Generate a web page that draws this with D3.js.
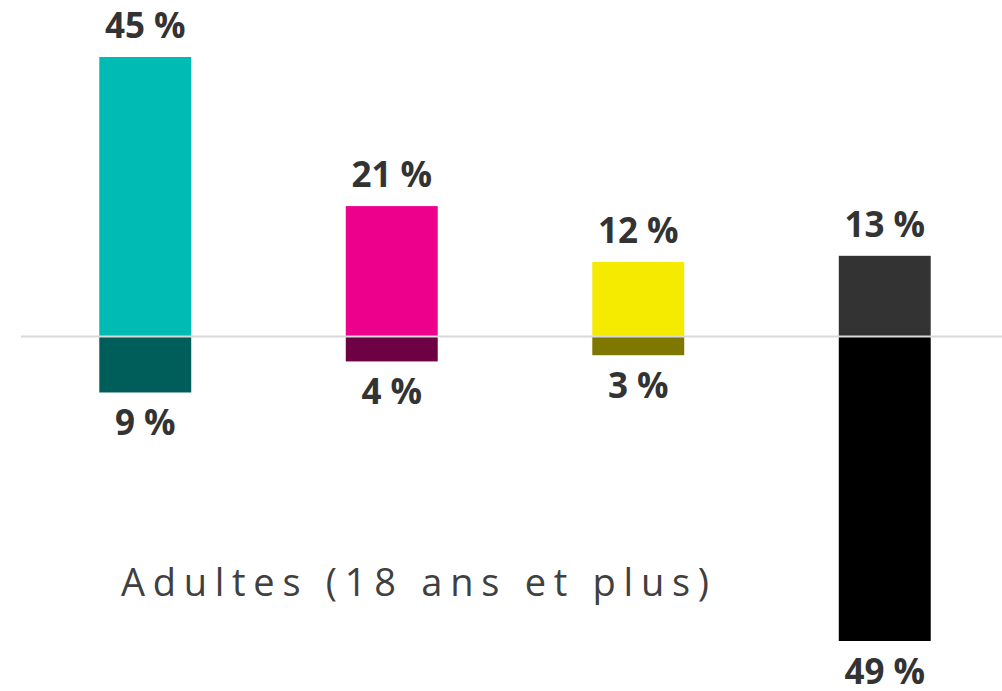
<!DOCTYPE html>
<html>
<head>
<meta charset="utf-8">
<script src="https://cdn.jsdelivr.net/npm/d3@7"></script>
<style>
    body { margin: 0; background: #fff; }
    svg { display: block; }
</style>
</head>
<body>
<div id="chart"></div>
<script>
// Data
var categories = ["A", "B", "C", "D"];
var positives = [45, 21, 12, 13];
var negatives = [9, 4, 3, 49];
var posColors = ["#00bbb4", "#ec008c", "#f5eb00", "#333333"];
var negColors = ["#005e5a", "#6e0044", "#7f7800", "#000000"];
var groupLabel = "Adultes (18 ans et plus)";

function init() {
    var w = 1002;
    var h = 691;

    var svg = d3.select("#chart")
        .append("svg")
        .attr("width", w)
        .attr("height", h);

    // x scale for the four columns
    var x = d3.scaleBand()
        .domain(categories)
        .range([22, 1008])
        .paddingInner(0.627)
        .paddingOuter(0.3135);

    // y scale, positives up, negatives down
    var y = d3.scaleLinear()
        .domain([-49, 45])
        .range([641, 57]);

    var rows = categories.map(function (c, i) {
        return { cat: c, pos: positives[i], neg: negatives[i], pc: posColors[i], nc: negColors[i] };
    });

    // Positive bars
    svg.selectAll("rect.pos")
        .data(rows)
        .enter()
        .append("rect")
        .attr("class", "pos")
        .attr("x", d => x(d.cat))
        .attr("width", x.bandwidth())
        .attr("y", d => y(d.pos))
        .attr("height", d => y(0) - y(d.pos))
        .style("fill", d => d.pc);

    // Negative bars
    svg.selectAll("rect.neg")
        .data(rows)
        .enter()
        .append("rect")
        .attr("class", "neg")
        .attr("x", d => x(d.cat))
        .attr("width", x.bandwidth())
        .attr("y", y(0))
        .attr("height", d => y(-d.neg) - y(0))
        .style("fill", d => d.nc);

    // Zero line
    svg.append("line")
        .attr("x1", 21)
        .attr("x2", w)
        .attr("y1", y(0))
        .attr("y2", y(0))
        .style("stroke", "#d9d9d9")
        .style("stroke-width", 2);

    // Value labels
    svg.selectAll("text.posLabel")
        .data(rows)
        .enter()
        .append("text")
        .attr("class", "posLabel")
        .attr("x", d => x(d.cat) + x.bandwidth() / 2)
        .attr("y", d => y(d.pos) - 19)
        .attr("text-anchor", "middle")
        .style("font-family", "'Open Sans', sans-serif")
        .style("font-weight", "bold")
        .style("font-size", "35px")
        .style("fill", "#333333")
        .text(d => d.pos + " %");

    svg.selectAll("text.negLabel")
        .data(rows)
        .enter()
        .append("text")
        .attr("class", "negLabel")
        .attr("x", d => x(d.cat) + x.bandwidth() / 2)
        .attr("y", d => y(-d.neg) + 43)
        .attr("text-anchor", "middle")
        .style("font-family", "'Open Sans', sans-serif")
        .style("font-weight", "bold")
        .style("font-size", "35px")
        .style("fill", "#333333")
        .text(d => d.neg + " %");

    // Group label, spaced out
    svg.append("text")
        .attr("x", 121)
        .attr("y", 596)
        .attr("textLength", 588)
        .attr("lengthAdjust", "spacing")
        .style("font-family", "'Open Sans', sans-serif")
        .style("font-size", "38px")
        .style("fill", "#404040")
        .text(groupLabel);
}

window.onload = init;
</script>
</body>
</html>
